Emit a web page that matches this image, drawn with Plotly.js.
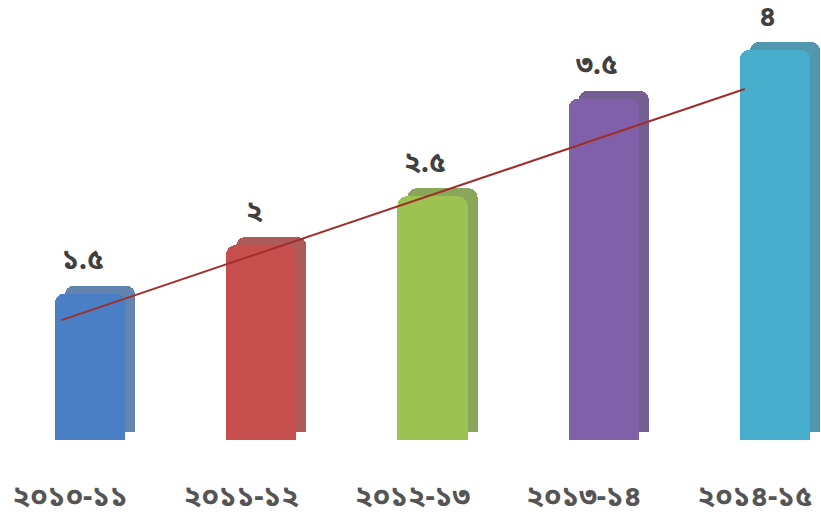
<!DOCTYPE html>
<html>
<head>
<meta charset="utf-8">
<script src="https://cdn.plot.ly/plotly-3.0.1.min.js"></script>
<style>html,body{margin:0;padding:0;background:#fff;}#chart{width:821px;height:521px;}</style>
</head>
<body>
<div id="chart"></div>
<script>
// ---- data ----
const categories = ["২০১০-১১", "২০১১-১২", "২০১২-১৩", "২০১৩-১৪", "২০১৪-১৫"];
const values = [1.5, 2, 2.5, 3.5, 4];
const valueLabels = ["১.৫", "২", "২.৫", "৩.৫", "৪"];
const trendX = [-0.05, 3.94];
const trendY = [1.23, 3.6];

// ---- styles ----
const frontColors = ["#4a7fc6", "#c64f4e", "#9cc252", "#7f60a9", "#46aecc"];
const sideColors  = ["#6284ae", "#ad5a59", "#8aa65a", "#735f92", "#5197ad"];
const pos = categories.map((c, i) => i);
const FONT = "Noto Sans Bengali, Noto Sans, Lohit Bengali, FreeSans, DejaVu Sans, sans-serif";

const sideTrace = {
  type: "bar", x: pos, y: values, xaxis: "x", yaxis: "y",
  width: 0.41, offset: -0.03,
  marker: {color: sideColors, cornerradius: 9, line: {width: 0}},
  hoverinfo: "skip", showlegend: false
};
const frontTrace = {
  type: "bar", x: pos, y: values, xaxis: "x", yaxis: "y2",
  width: 0.41, offset: -0.088,
  marker: {color: frontColors, cornerradius: 9, line: {width: 0}},
  showlegend: false
};
const trendTrace = {
  type: "scatter", mode: "lines", x: trendX, y: trendY, xaxis: "x", yaxis: "y2",
  line: {color: "#9e2f2b", width: 2}, showlegend: false, hoverinfo: "skip"
};

const annotations = values.map((v, i) => ({
  x: pos[i] + 0.075, y: v, xref: "x", yref: "y2",
  text: valueLabels[i], showarrow: false,
  yanchor: "middle", yshift: 32, borderpad: 0,
  font: {family: FONT, size: 28, color: "#404040", weight: "bold"}
}));

const layout = {
  width: 821, height: 521,
  margin: {l: 0, r: 0, t: 0, b: 81},
  paper_bgcolor: "#ffffff", plot_bgcolor: "#ffffff",
  xaxis: {
    range: [-0.409, 4.385], tickvals: pos, ticktext: categories,
    showgrid: false, zeroline: false, showline: false, ticks: "",
    ticklabelstandoff: 36,
    tickfont: {family: FONT, size: 29, color: "#555555", weight: "bold"}
  },
  yaxis: {range: [-0.082, 4.431], visible: false, showgrid: false, zeroline: false},
  yaxis2: {range: [0, 4.513], overlaying: "y", visible: false, showgrid: false, zeroline: false},
  annotations: annotations,
  bargap: 0
};

Plotly.newPlot("chart", [sideTrace, frontTrace, trendTrace], layout, {displayModeBar: false, staticPlot: true});
</script>
</body>
</html>
